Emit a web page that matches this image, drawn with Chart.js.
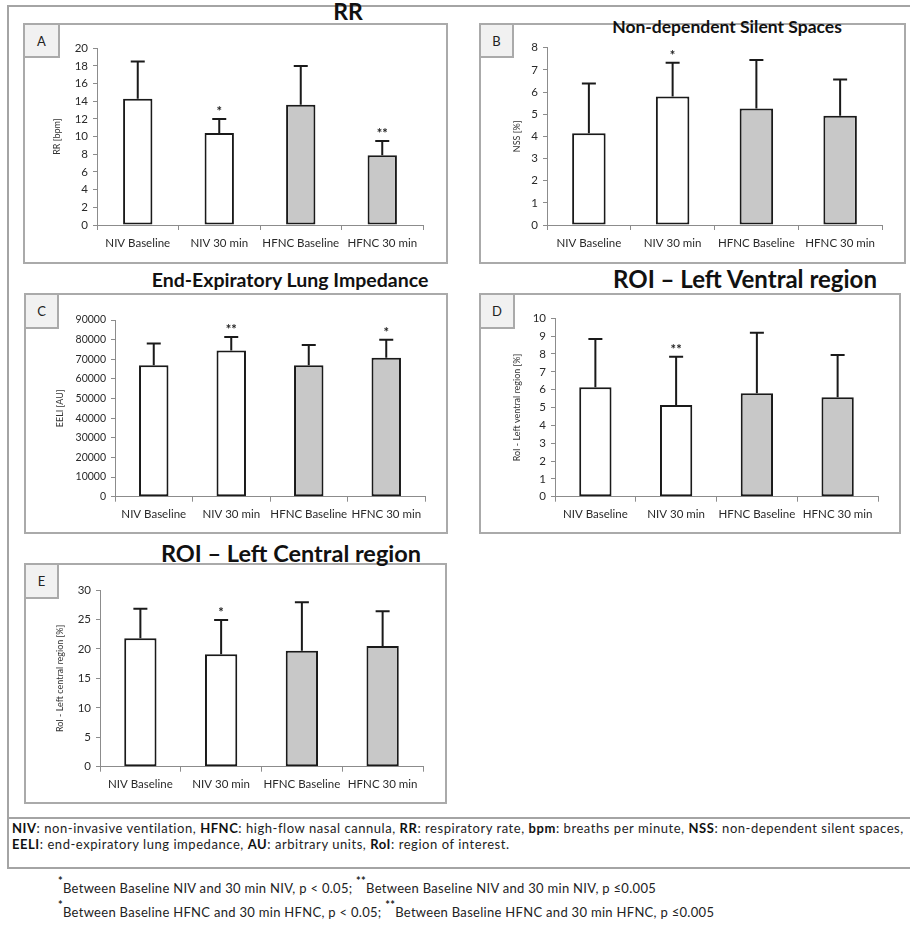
<!DOCTYPE html>
<html>
<head>
<meta charset="utf-8">
<script src="https://cdn.jsdelivr.net/npm/chart.js@4.4.1/dist/chart.umd.min.js"></script>
<style>
  html, body { margin: 0; padding: 0; background: #fff; }
  #page { position: relative; width: 910px; height: 925px; overflow: hidden;
          font-family: Lato, "Open Sans", sans-serif; color: #1a1a1a; }
  .frame { position: absolute; border: 2px solid #a4a4a4; box-sizing: border-box; }
  .box { position: absolute; border: 2px solid #aaaaaa; box-sizing: border-box; }
  .tag { position: absolute; background: #f1f1f1; border: 2px solid #aaaaaa; box-sizing: border-box;
         font-size: 13px; display: flex; align-items: center; justify-content: center; color: #222; }
  .title { position: absolute; font-weight: 700; white-space: nowrap; line-height: 1;
           transform: translateX(-50%); color: #111; }
  .rule { position: absolute; height: 0; border-top: 2px solid #a4a4a4; }
  .text { position: absolute; white-space: nowrap; color: #222; }
  .text b { color: #111; }
  .star { position: relative; top: -8px; font-size: 11px; font-weight: 700; }
  canvas { position: absolute; }
</style>
</head>
<body>
<div id="page">
  <div class="frame" style="left:7px; top:5px; width:910px; height:864px;"></div>
  <div class="rule" style="left:7px; top:817px; width:910px;"></div>

  <div class="box" style="left:23px; top:23px; width:425px; height:241px;"></div>
  <div class="box" style="left:479px; top:23px; width:427px; height:241px;"></div>
  <div class="box" style="left:24px; top:293px; width:424px; height:241px;"></div>
  <div class="box" style="left:479px; top:293px; width:422px; height:241px;"></div>
  <div class="box" style="left:24px; top:563px; width:423px; height:241px;"></div>

  <div class="tag" style="left:23px; top:23px; width:37px; height:35px;">A</div>
  <div class="tag" style="left:479px; top:23px; width:35px; height:35px;">B</div>
  <div class="tag" style="left:24px; top:293px; width:35px; height:36px;">C</div>
  <div class="tag" style="left:479px; top:293px; width:36px; height:36px;">D</div>
  <div class="tag" style="left:24px; top:563px; width:35px; height:36px;">E</div>

  <div class="title" style="left:348px; top:0px; font-size:23px;">RR</div>
  <div class="title" style="left:727px; top:18px; font-size:17.5px;">Non-dependent Silent Spaces</div>
  <div class="title" style="left:290px; top:270px; font-size:19.5px;">End-Expiratory Lung Impedance</div>
  <div class="title" style="left:745px; top:267px; font-size:24px;">ROI – Left Ventral region</div>
  <div class="title" style="left:291px; top:542px; font-size:23.5px;">ROI – Left Central region</div>

  <div class="text" style="left:12px; top:820px; font-size:13px; line-height:16px; letter-spacing:0.55px;">
    <b>NIV</b>: non-invasive ventilation, <b>HFNC</b>: high-flow nasal cannula, <b>RR</b>: respiratory rate, <b>bpm</b>: breaths per minute, <b>NSS</b>: non-dependent silent spaces,<br>
    <b>EELI</b>: end-expiratory lung impedance, <b>AU</b>: arbitrary units, <b>RoI</b>: region of interest.
  </div>
  <div class="text" style="left:58px; top:880px; font-size:13px; line-height:16px; letter-spacing:0.3px;">
    <span class="star">*</span>Between Baseline NIV and 30 min NIV, p &lt; 0.05; <span class="star">**</span>Between Baseline NIV and 30 min NIV, p ≤0.005
  </div>
  <div class="text" style="left:58px; top:904px; font-size:13px; line-height:16px; letter-spacing:0.3px;">
    <span class="star">*</span>Between Baseline HFNC and 30 min HFNC, p &lt; 0.05; <span class="star">**</span>Between Baseline HFNC and 30 min HFNC, p ≤0.005
  </div>
</div>

<script>
// Shared categories and bar fills (NIV arms white, HFNC arms grey)
const categories = ['NIV Baseline', 'NIV 30 min', 'HFNC Baseline', 'HFNC 30 min'];
const barFills = ['#ffffff', '#ffffff', '#c8c8c8', '#c8c8c8'];

// A: respiratory rate
const rrMean = [14.3, 10.4, 13.6, 7.9];
const rrSd = [4.2, 1.6, 4.4, 1.6];
const rrMarks = ['', '*', '', '**'];

// B: non-dependent silent spaces
const nssMean = [4.14, 5.8, 5.26, 4.93];
const nssSd = [2.25, 1.52, 2.18, 1.63];
const nssMarks = ['', '*', '', ''];

// C: end-expiratory lung impedance
const eeliMean = [67000, 74500, 67000, 70800];
const eeliSd = [11000, 6800, 10300, 9200];
const eeliMarks = ['', '**', '', '*'];

// D: RoI left ventral region
const ventralMean = [6.13, 5.14, 5.8, 5.57];
const ventralSd = [2.71, 2.71, 3.39, 2.37];
const ventralMarks = ['', '**', '', ''];

// E: RoI left central region
const centralMean = [21.8, 19.1, 19.7, 20.5];
const centralSd = [5.0, 5.8, 8.2, 5.9];
const centralMarks = ['', '*', '', ''];

const FONT = 'Lato, "Open Sans", sans-serif';
const AXIS = '#8c8c8c';

// Upper error bars and significance marks drawn from the bar data
const errorBars = {
  id: 'errorBars',
  afterDatasetsDraw(chart, args, opts) {
    const ctx = chart.ctx;
    const y = chart.scales.y;
    const meta = chart.getDatasetMeta(0);
    ctx.save();
    ctx.strokeStyle = '#1a1a1a';
    ctx.lineWidth = 2;
    meta.data.forEach((bar, i) => {
      const top = y.getPixelForValue(opts.mean[i] + opts.sd[i]);
      ctx.beginPath();
      ctx.moveTo(bar.x, bar.y);
      ctx.lineTo(bar.x, top);
      ctx.moveTo(bar.x - 7, top);
      ctx.lineTo(bar.x + 7, top);
      ctx.stroke();
      if (opts.marks[i]) {
        ctx.fillStyle = '#1a1a1a';
        ctx.font = 'bold 13px ' + FONT;
        ctx.textAlign = 'center';
        ctx.textBaseline = 'alphabetic';
        ctx.fillText(opts.marks[i], bar.x, top - 3);
      }
    });
    ctx.restore();
  }
};

function panel(p) {
  const [pl, pt, pr, pb] = p.plot;
  const lh = 9 * 1.2;
  const cLeft = Math.round(p.titleX - lh / 2);
  const cTop = Math.floor(pt - 26);
  const cRight = Math.ceil(pr + 12);
  const cBottom = Math.ceil(pb + 34);
  const canvas = document.createElement('canvas');
  canvas.width = cRight - cLeft;
  canvas.height = cBottom - cTop;
  canvas.style.left = cLeft + 'px';
  canvas.style.top = cTop + 'px';
  canvas.style.width = canvas.width + 'px';
  canvas.style.height = canvas.height + 'px';
  document.getElementById('page').appendChild(canvas);

  new Chart(canvas, {
    type: 'bar',
    data: {
      labels: categories,
      datasets: [{
        data: p.mean,
        backgroundColor: barFills,
        borderColor: '#1a1a1a',
        borderWidth: 2,
        borderSkipped: false,
        barPercentage: p.barPct,
        categoryPercentage: 1
      }]
    },
    options: {
      responsive: false,
      animation: false,
      events: [],
      layout: { padding: { left: 0, top: pt - cTop, right: cRight - pr, bottom: 0 } },
      plugins: {
        legend: { display: false },
        tooltip: { enabled: false },
        errorBars: { mean: p.mean, sd: p.sd, marks: p.marks }
      },
      scales: {
        x: {
          offset: true,
          grid: { display: true, drawOnChartArea: false, drawTicks: true, tickLength: 5, color: AXIS, offset: true },
          border: { display: true, color: AXIS, width: 1 },
          ticks: { color: '#2a2a2a', font: { family: FONT, size: 11.5 }, padding: 6, maxRotation: 0, autoSkip: false },
          afterFit: s => { s.height = cBottom - pb; }
        },
        y: {
          min: 0, max: p.max,
          grid: { display: true, drawOnChartArea: false, drawTicks: true, tickLength: 4, color: AXIS },
          border: { display: true, color: AXIS, width: 1 },
          ticks: { stepSize: p.step, color: '#2a2a2a', font: { family: FONT, size: p.tickSize }, padding: 5,
                   callback: v => String(v) },
          title: { display: true, text: p.yTitle, color: '#333', font: { family: FONT, size: 9 }, padding: 0 },
          afterFit: s => { s.width = pl - cLeft; }
        }
      }
    },
    plugins: [errorBars]
  });
}

panel({ plot: [97, 48.3, 423, 225], titleX: 57, mean: rrMean, sd: rrSd, marks: rrMarks,
        max: 20, step: 2, yTitle: 'RR [bpm]', barPct: 0.36, tickSize: 11.5 });
panel({ plot: [547, 47.7, 882, 225], titleX: 517, mean: nssMean, sd: nssSd, marks: nssMarks,
        max: 8, step: 1, yTitle: 'NSS [%]', barPct: 0.40, tickSize: 11.5 });
panel({ plot: [115, 320, 425, 496.7], titleX: 60, mean: eeliMean, sd: eeliSd, marks: eeliMarks,
        max: 90000, step: 10000, yTitle: 'EELI [AU]', barPct: 0.38, tickSize: 10.5 });
panel({ plot: [555, 318.3, 878, 496.7], titleX: 517, mean: ventralMean, sd: ventralSd, marks: ventralMarks,
        max: 10, step: 1, yTitle: 'RoI - Left ventral region [%]', barPct: 0.40, tickSize: 11.5 });
panel({ plot: [100, 590, 423, 766.7], titleX: 60, mean: centralMean, sd: centralSd, marks: centralMarks,
        max: 30, step: 5, yTitle: 'RoI - Left central region [%]', barPct: 0.40, tickSize: 11.5 });
</script>
</body>
</html>
